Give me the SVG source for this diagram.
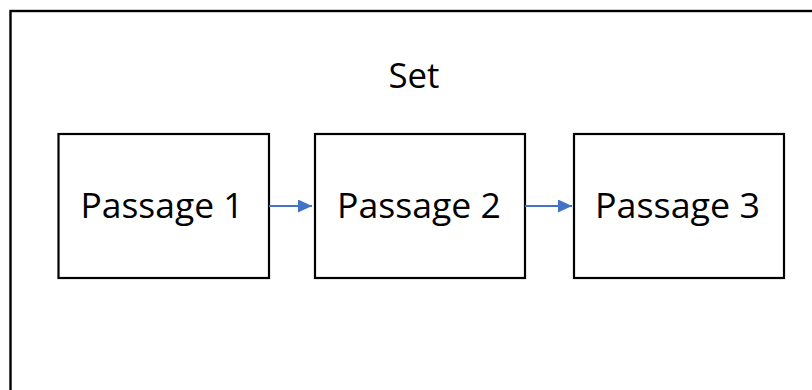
<svg xmlns="http://www.w3.org/2000/svg" width="812" height="390" viewBox="0 0 812 390">
  <style>
    .frame { fill: #ffffff; stroke: #000000; stroke-width: 2.4; }
    .box { fill: #ffffff; stroke: #000000; stroke-width: 2.2; }
    .label { font-family: "Open Sans", "Liberation Sans", sans-serif; font-size: 34px; fill: #000000; text-anchor: middle; }
    .link { stroke: #4472C4; stroke-width: 2; fill: none; }
  </style>
  <defs>
    <marker id="arrowhead" viewBox="0 0 14 13" refX="14" refY="6.5" markerWidth="14" markerHeight="13" markerUnits="userSpaceOnUse" orient="auto">
      <path d="M0,0 L14,6.5 L0,13 Z" fill="#4472C4"/>
    </marker>
  </defs>
  <rect width="812" height="390" fill="#ffffff"/>

  <!-- outer container, open to the right and bottom edges -->
  <g id="set">
    <rect class="frame" x="10.5" y="11" width="820" height="400"/>
    <text class="label" x="414" y="88" textLength="51" lengthAdjust="spacingAndGlyphs">Set</text>
  </g>

  <g id="passage1">
    <rect class="box" x="58.5" y="134" width="210.5" height="144"/>
    <text class="label" x="162" y="218" textLength="163" lengthAdjust="spacingAndGlyphs">Passage 1</text>
  </g>

  <g id="passage2">
    <rect class="box" x="315" y="134" width="210" height="144"/>
    <text class="label" x="419" y="218" textLength="164" lengthAdjust="spacingAndGlyphs">Passage 2</text>
  </g>

  <g id="passage3">
    <rect class="box" x="574" y="134" width="210" height="144"/>
    <text class="label" x="677.5" y="218" textLength="165" lengthAdjust="spacingAndGlyphs">Passage 3</text>
  </g>

  <g id="connectors">
    <line class="link" x1="269" y1="206" x2="312" y2="206" marker-end="url(#arrowhead)"/>
    <line class="link" x1="525" y1="206" x2="572" y2="206" marker-end="url(#arrowhead)"/>
  </g>
</svg>
